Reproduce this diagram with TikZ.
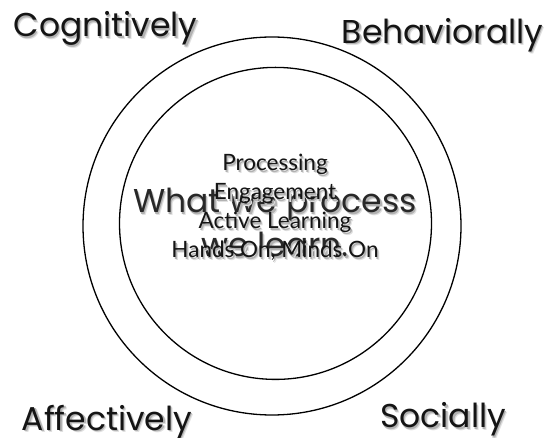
\documentclass[tikz,border=0pt]{standalone}
\usepackage{fontspec}
\setmainfont{Lato}
\newfontfamily\gothic{Poppins}
\usepackage{tikz}
\definecolor{InkBlack}{RGB}{20, 20, 20}
\definecolor{ProcessGrey}{RGB}{40, 40, 40}
% soft drop shadow behind a line of text
\newcommand{\shadowed}[1]{%
  \makebox[0pt][l]{\raisebox{-2.4pt}{\hspace{2.4pt}\textcolor{black!12}{#1}}}%
  \makebox[0pt][l]{\raisebox{-1.4pt}{\hspace{1.4pt}\textcolor{black!30}{#1}}}%
  #1}

\begin{document}
\begin{tikzpicture}[x=1pt, y=-1pt,
    ring/.style={line width=1.3pt, black},
    corner/.style={font=\gothic\fontsize{33}{40}\selectfont, text=InkBlack, anchor=base, inner sep=0pt},
    bigtext/.style={font=\gothic\fontsize{33}{40}\selectfont, text=ProcessGrey, anchor=base, inner sep=0pt},
    listitem/.style={font=\fontsize{22.5}{27}\selectfont, text=InkBlack, anchor=base, inner sep=0pt}]
  \useasboundingbox (0,0) rectangle (549,438);

  % outer and inner ring
  \draw[ring] (272,226) circle[radius=189];
  \draw[ring] (275.5,223.4) circle[radius=156];

  % the four ways of learning
  \node[corner] (cog) at (105.5,36.7) {\shadowed{Cognitively}};
  \node[corner] (beh) at (442.5,43.3) {\shadowed{Behaviorally}};
  \node[corner] (aff) at (107,430) {\shadowed{Affectively}};
  \node[corner] (soc) at (443,427.7) {\shadowed{Socially}};

  % centre message
  \node[bigtext] (what) at (275,213) {\shadowed{What we process}};
  \node[bigtext] (learn) at (275,257) {\shadowed{we learn.}};

  \foreach \word [count=\i] in {Processing, Engagement, Active Learning, {Hands On, Minds On}}
    \node[listitem] (item\i) at (275,142+29*\i) {\shadowed{\word}};
\end{tikzpicture}
\end{document}
